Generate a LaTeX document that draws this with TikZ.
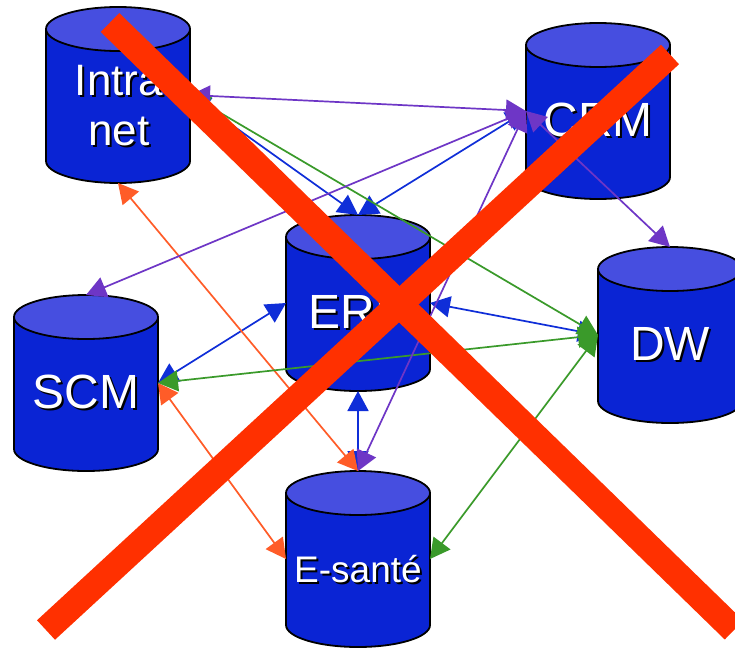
\documentclass[tikz,border=0pt]{standalone}
\usepackage{fontspec}
\setmainfont{Liberation Sans}
\usetikzlibrary{arrows.meta}
\definecolor{cylbody}{HTML}{0A24D4}
\definecolor{cyltop}{HTML}{464EE0}
\definecolor{linkblue}{HTML}{0F2ED8}
\definecolor{linkpurple}{HTML}{6E36C6}
\definecolor{linkgreen}{HTML}{3A9A2A}
\definecolor{linkorange}{HTML}{FF5C28}
\definecolor{crossred}{HTML}{FF3000}
\tikzset{
  x=1pt,y=-1pt,
  cylbox/.style={minimum width=144pt,minimum height=176pt,inner sep=0pt,outer sep=0pt},
  cyledge/.style={draw=black,line width=1.8pt},
  biglabel/.style={text=white,font=\fontsize{48}{51}\selectfont,align=center,inner sep=0pt},
  twolinelabel/.style={text=white,font=\fontsize{44}{50}\selectfont,align=center,inner sep=0pt},
  smalllabel/.style={text=white,font=\fontsize{37}{40}\selectfont,align=center,inner sep=0pt},
  link/.style={line width=1.7pt,{Triangle[length=20pt,width=21pt]}-{Triangle[length=20pt,width=21pt]}},
  cross/.style={crossred,line width=26.5pt}
}
\newcommand{\dbcyl}[3]{%
  \node[cylbox] (#1) at (#2,#3) {};
  \draw[cyledge,fill=cylbody] (#2-72,#3-66) -- (#2-72,#3+66)
    arc[start angle=180,end angle=360,x radius=72pt,y radius=22pt]
    -- (#2+72,#3-66) -- cycle;
  \draw[cyledge,fill=cyltop] (#2,#3-66) ellipse[x radius=72pt,y radius=22pt];
}
\newcommand{\shadowed}[1]{\leavevmode\rlap{\kern2pt\raisebox{-2pt}{\textcolor{black}{#1}}}#1}
\begin{document}
\begin{tikzpicture}
\useasboundingbox (0,0) rectangle (735,648);
\clip (0,0) rectangle (735,648);
\fill[white] (0,0) rectangle (735,648);
\dbcyl{intra}{118}{95}
\dbcyl{crm}{598}{111}
\dbcyl{erp}{358}{303}
\dbcyl{scm}{86}{383}
\dbcyl{dw}{670}{335}
\dbcyl{esante}{358}{559}
\node[twolinelabel] (intralabel) at (119,106.5) {\shadowed{Intra}\\\shadowed{net}};
\node[biglabel] (crmlabel) at (598,121) {\shadowed{CRM}};
\node[biglabel] (erplabel) at (358,313) {\shadowed{ERP}};
\node[biglabel] (scmlabel) at (86,393) {\shadowed{SCM}};
\node[biglabel] (dwlabel) at (670,345) {\shadowed{DW}};
\node[smalllabel] (esantelabel) at (358,570) {\shadowed{E-santé}};
% blue
\draw[link,linkblue] (intra.east) -- (erp.north);
\draw[link,linkblue] (crm.west) -- (erp.north);
\draw[link,linkblue] (erp.west) -- (scm.east);
\draw[link,linkblue] (erp.east) -- (dw.west);
\draw[link,linkblue] (erp.south) -- (esante.north);
% orange
\draw[link,linkorange] (intra.south) -- (esante.north);
\draw[link,linkorange] (scm.east) -- (esante.west);
% green
\draw[link,linkgreen] (intra.east) -- (dw.west);
\draw[link,linkgreen] (scm.east) -- (dw.west);
\draw[link,linkgreen] (dw.west) -- (esante.east);
% purple
\draw[link,linkpurple] (crm.west) -- (esante.north);
\draw[link,linkpurple] (crm.west) -- (scm.north);
\draw[link,linkpurple] (crm.west) -- (dw.north);
\draw[link,linkpurple] (intra.east) -- (crm.west);
% red cross
\coordinate (xa) at (110,22.5);
\coordinate (xb) at (734,630);
\coordinate (xc) at (670,54.5);
\coordinate (xd) at (46,630);
\draw[cross] (xa) -- (xb);
\draw[cross] (xc) -- (xd);
\end{tikzpicture}
\end{document}
